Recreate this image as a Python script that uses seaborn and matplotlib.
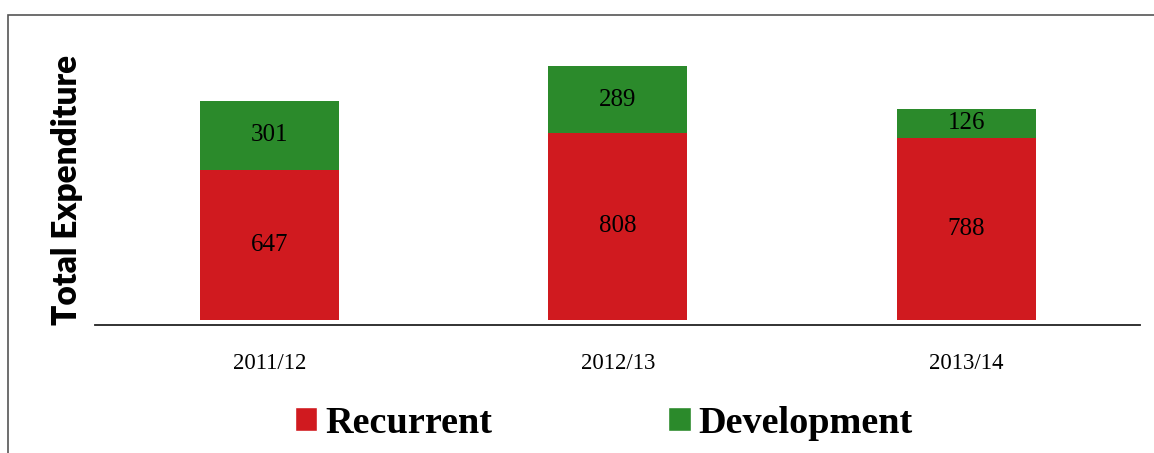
import matplotlib
matplotlib.use("Agg")
import matplotlib.pyplot as plt
import seaborn as sns
import pandas as pd
from matplotlib.patches import Patch, Rectangle

# data
years = ["2011/12", "2012/13", "2013/14"]
recurrent = [647, 808, 788]
development = [301, 289, 126]

red = "#d01a1f"
green = "#2b8a2b"

df = pd.DataFrame({"year": years, "recurrent": recurrent, "development": development})
df["total"] = df["recurrent"] + df["development"]

sns.set_theme(style="white")
fig = plt.figure(figsize=(11.54, 4.53), dpi=100)
ax = fig.add_axes([0.0823, 0.2826, 0.906, 0.629])

# stacked bars: full total in green, recurrent over it in red
sns.barplot(data=df, x="year", y="total", color=green, width=0.4, saturation=1,
            linewidth=0, ax=ax)
sns.barplot(data=df, x="year", y="recurrent", color=red, width=0.4, saturation=1,
            linewidth=0, ax=ax)

for i, row in df.iterrows():
    ax.text(i, row["recurrent"] / 2, str(row["recurrent"]), ha="center", va="center",
            family="Liberation Serif", fontsize=18, color="black")
    ax.text(i, row["recurrent"] + row["development"] / 2, str(row["development"]),
            ha="center", va="center", family="Liberation Serif", fontsize=18, color="black")

ax.set_ylim(-22, 1210)
ax.set_yticks([])
ax.set_xlabel("")
ax.set_ylabel("Total Expenditure", family="Lato", fontweight="heavy", fontsize=24,
              color="black")
ax.yaxis.set_label_coords(-0.011, 0.474)
ax.tick_params(axis="x", length=0, pad=20)
for lbl in ax.get_xticklabels():
    lbl.set_family("Liberation Serif")
    lbl.set_fontsize(16.5)
    lbl.set_color("black")
for s in ["top", "right", "left"]:
    ax.spines[s].set_visible(False)
ax.spines["bottom"].set_color("#222222")
ax.spines["bottom"].set_linewidth(1.3)

# outer frame, cut at right and bottom like the scan
fig.patches.append(Rectangle((8 / 1154, -0.1), 1.2, 1 - 15 / 453 + 0.1,
                             transform=fig.transFigure, fill=False,
                             edgecolor="#555555", linewidth=1.2))

handles = [Patch(facecolor=red, label="Recurrent"), Patch(facecolor=green, label="Development")]
fig.legend(handles=handles, loc="center", bbox_to_anchor=(0.523, 0.066), ncol=2,
           frameon=False, handlelength=0.6, handleheight=0.6, handletextpad=0.2,
           columnspacing=4.6, labelcolor="black",
           prop={"family": "Liberation Serif", "weight": "bold", "size": 27.5})

fig.savefig("out.png", dpi=100)
